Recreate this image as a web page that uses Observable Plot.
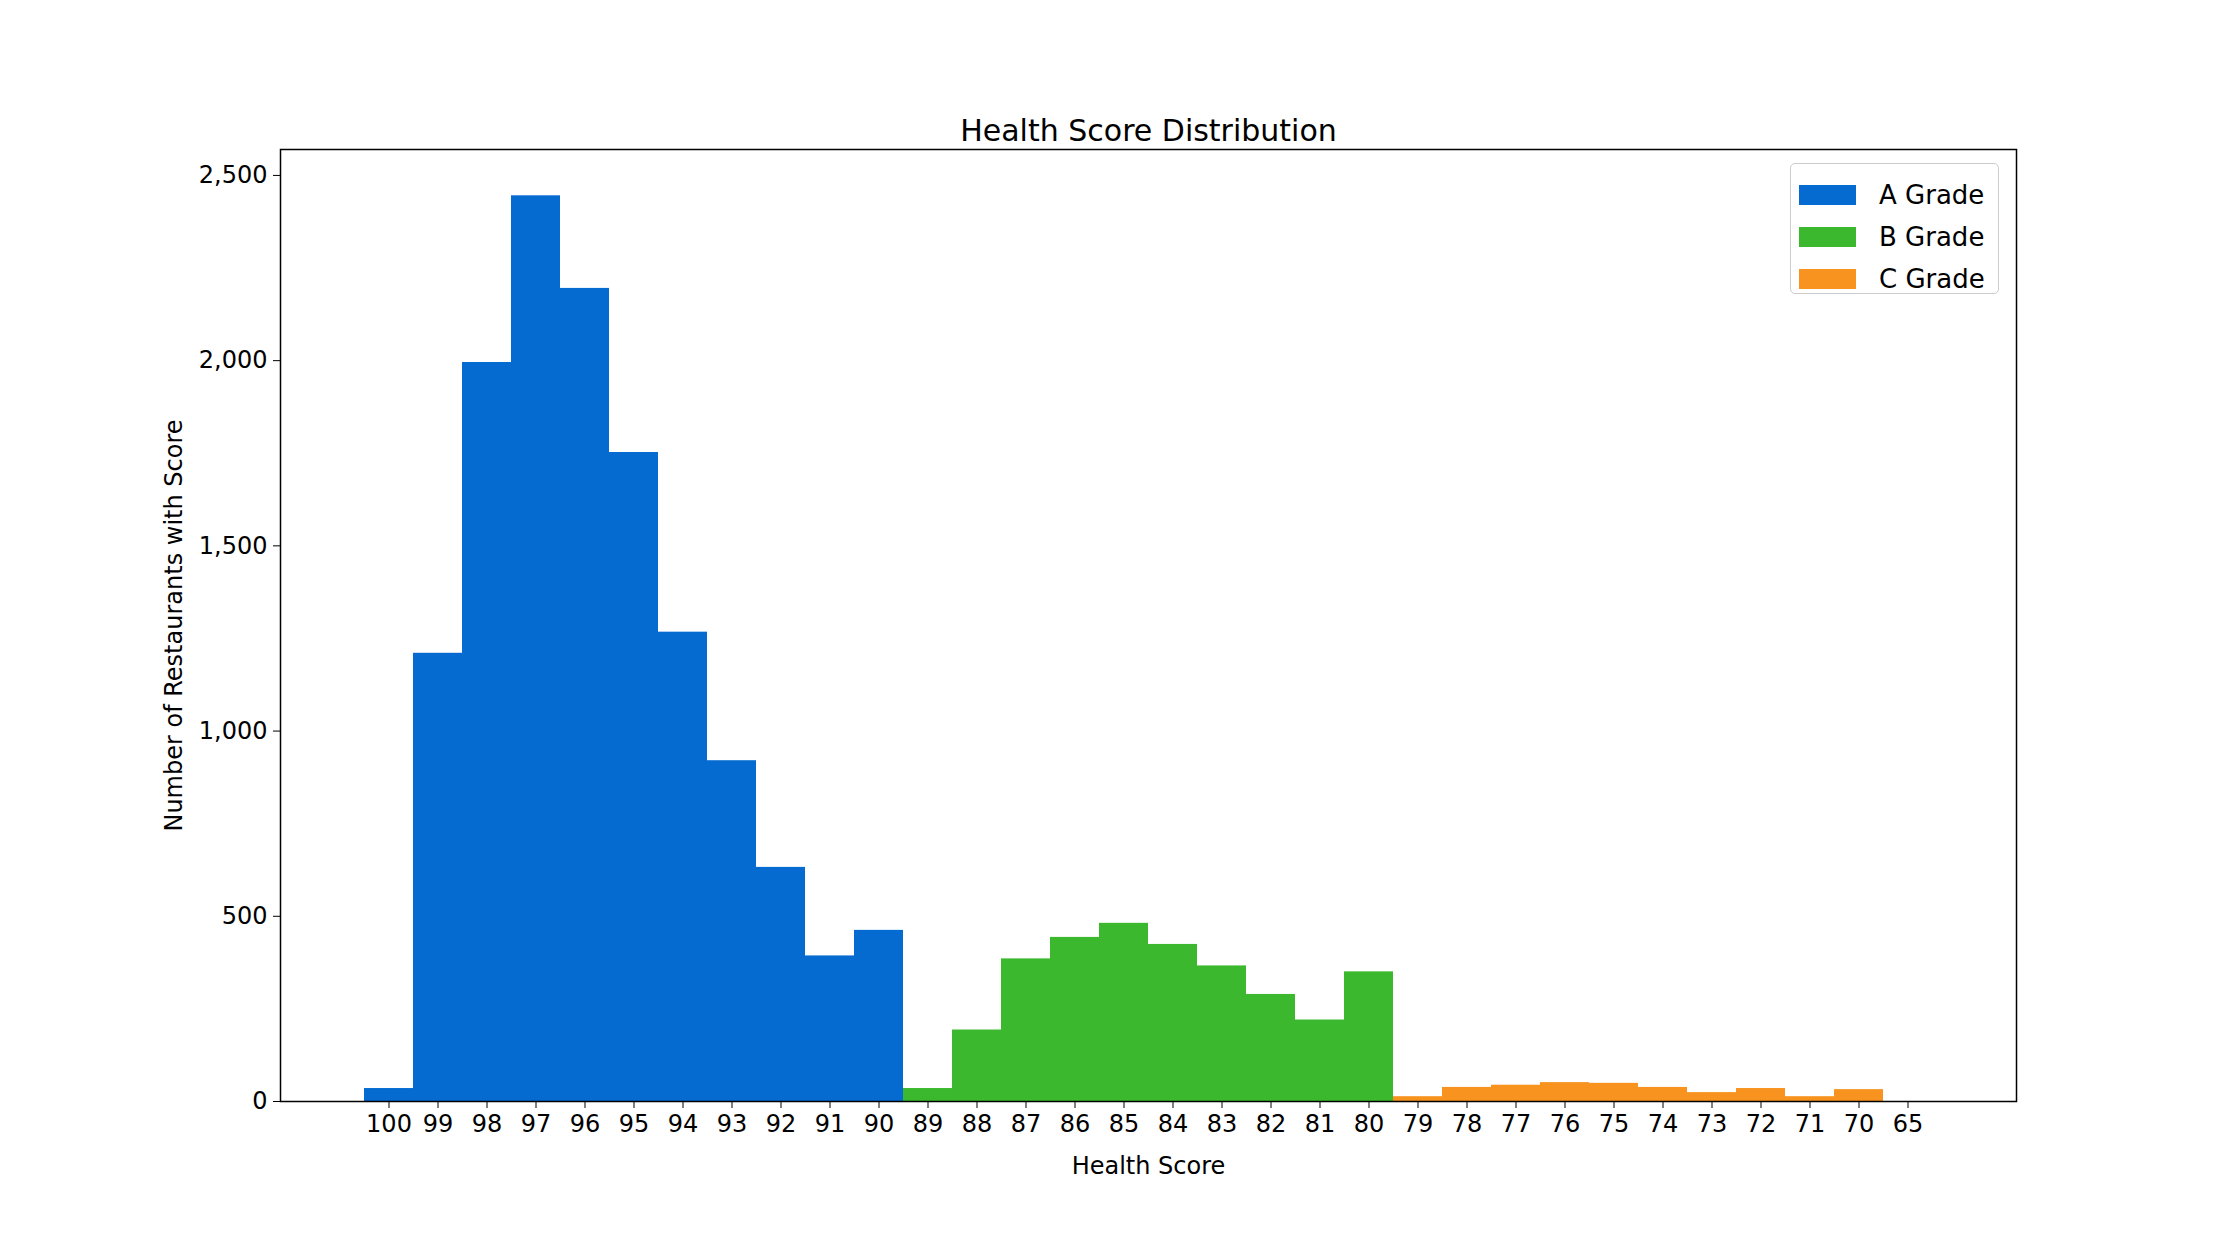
<!DOCTYPE html>
<html>
<head>
<meta charset="utf-8">
<script src="https://cdn.jsdelivr.net/npm/d3@7"></script>
<script src="https://cdn.jsdelivr.net/npm/@observablehq/plot@0.6"></script>
<style>
  body { margin: 0; background: #fff; font-family: "DejaVu Sans", sans-serif; }
  #chart { position: relative; width: 2240px; height: 1238px; }
  #legend { position: absolute; left: 1790px; top: 163px; width: 209px; height: 131px;
    border: 1.5px solid #ccc; border-radius: 5px; background: #fff; box-sizing: border-box;
    font-size: 26px; padding: 10px 0 0 8px; }
  #legend div { display: flex; align-items: center; height: 42px; }
  #legend span.sw { display: inline-block; width: 57px; height: 20px; margin-right: 23px; }
</style>
</head>
<body>
<div id="chart"></div>
<script>
const scores = ["100","99","98","97","96","95","94","93","92","91","90",
  "89","88","87","86","85","84","83","82","81","80",
  "79","78","77","76","75","74","73","72","71","70","65"]
const counts = [35,1210,1995,2445,2195,1752,1267,920,632,393,462,
  35,193,385,443,481,424,366,289,220,350,
  13,38,44,51,49,38,24,35,13,32,0]
const grades = ["A Grade","B Grade","C Grade"]
const gradeColors = ["#056bd1","#3bb82e","#f7931e"]

const gradeOf = s => +s >= 90 ? grades[0] : +s >= 80 ? grades[1] : grades[2]
const data = scores.map((s, i) => ({score: s, count: counts[i], grade: gradeOf(s)}))

const chart = Plot.plot({
  width: 2240,
  height: 1238,
  marginLeft: 280,
  marginRight: 224,
  marginTop: 149,
  marginBottom: 137,
  style: {fontFamily: "DejaVu Sans, sans-serif", fontSize: "21px", color: "#000"},
  x: {type: "band", domain: scores, paddingInner: 0, paddingOuter: 1.6,
      label: "Health Score", labelAnchor: "center", labelArrow: "none", labelOffset: 72,
      tickSize: 7},
  y: {domain: [0, 2570], ticks: [0,500,1000,1500,2000,2500], label: "Number of Restaurants with Score",
      labelAnchor: "center", labelArrow: "none", labelOffset: 116, tickSize: 7},
  color: {domain: grades, range: gradeColors},
  marks: [
    Plot.barY(data, {x: "score", y: "count", fill: "grade", insetLeft: 0, insetRight: 0}),
    Plot.frame({stroke: "#000", strokeWidth: 1.5}),
    Plot.text(["Health Score Distribution"], {frameAnchor: "top", dy: -30, fontSize: 30, text: d => d}),
    Plot.axisX({tickSize: 7, tickPadding: 6, fontSize: 24, label: "Health Score",
      labelAnchor: "center", labelArrow: "none", labelOffset: 72}),
    Plot.axisY({ticks: [0,500,1000,1500,2000,2500], tickSize: 7, tickPadding: 6, fontSize: 24,
      label: "Number of Restaurants with Score", labelAnchor: "center", labelArrow: "none", labelOffset: 116})
  ]
})

d3.select('#chart').append(() => chart)

const legend = d3.select('#chart').append('div').attr('id', 'legend')
grades.forEach((g, i) => {
  const row = legend.append('div')
  row.append('span').attr('class', 'sw').style('background', gradeColors[i])
  row.append('span').text(g)
})
</script>
</body>
</html>
